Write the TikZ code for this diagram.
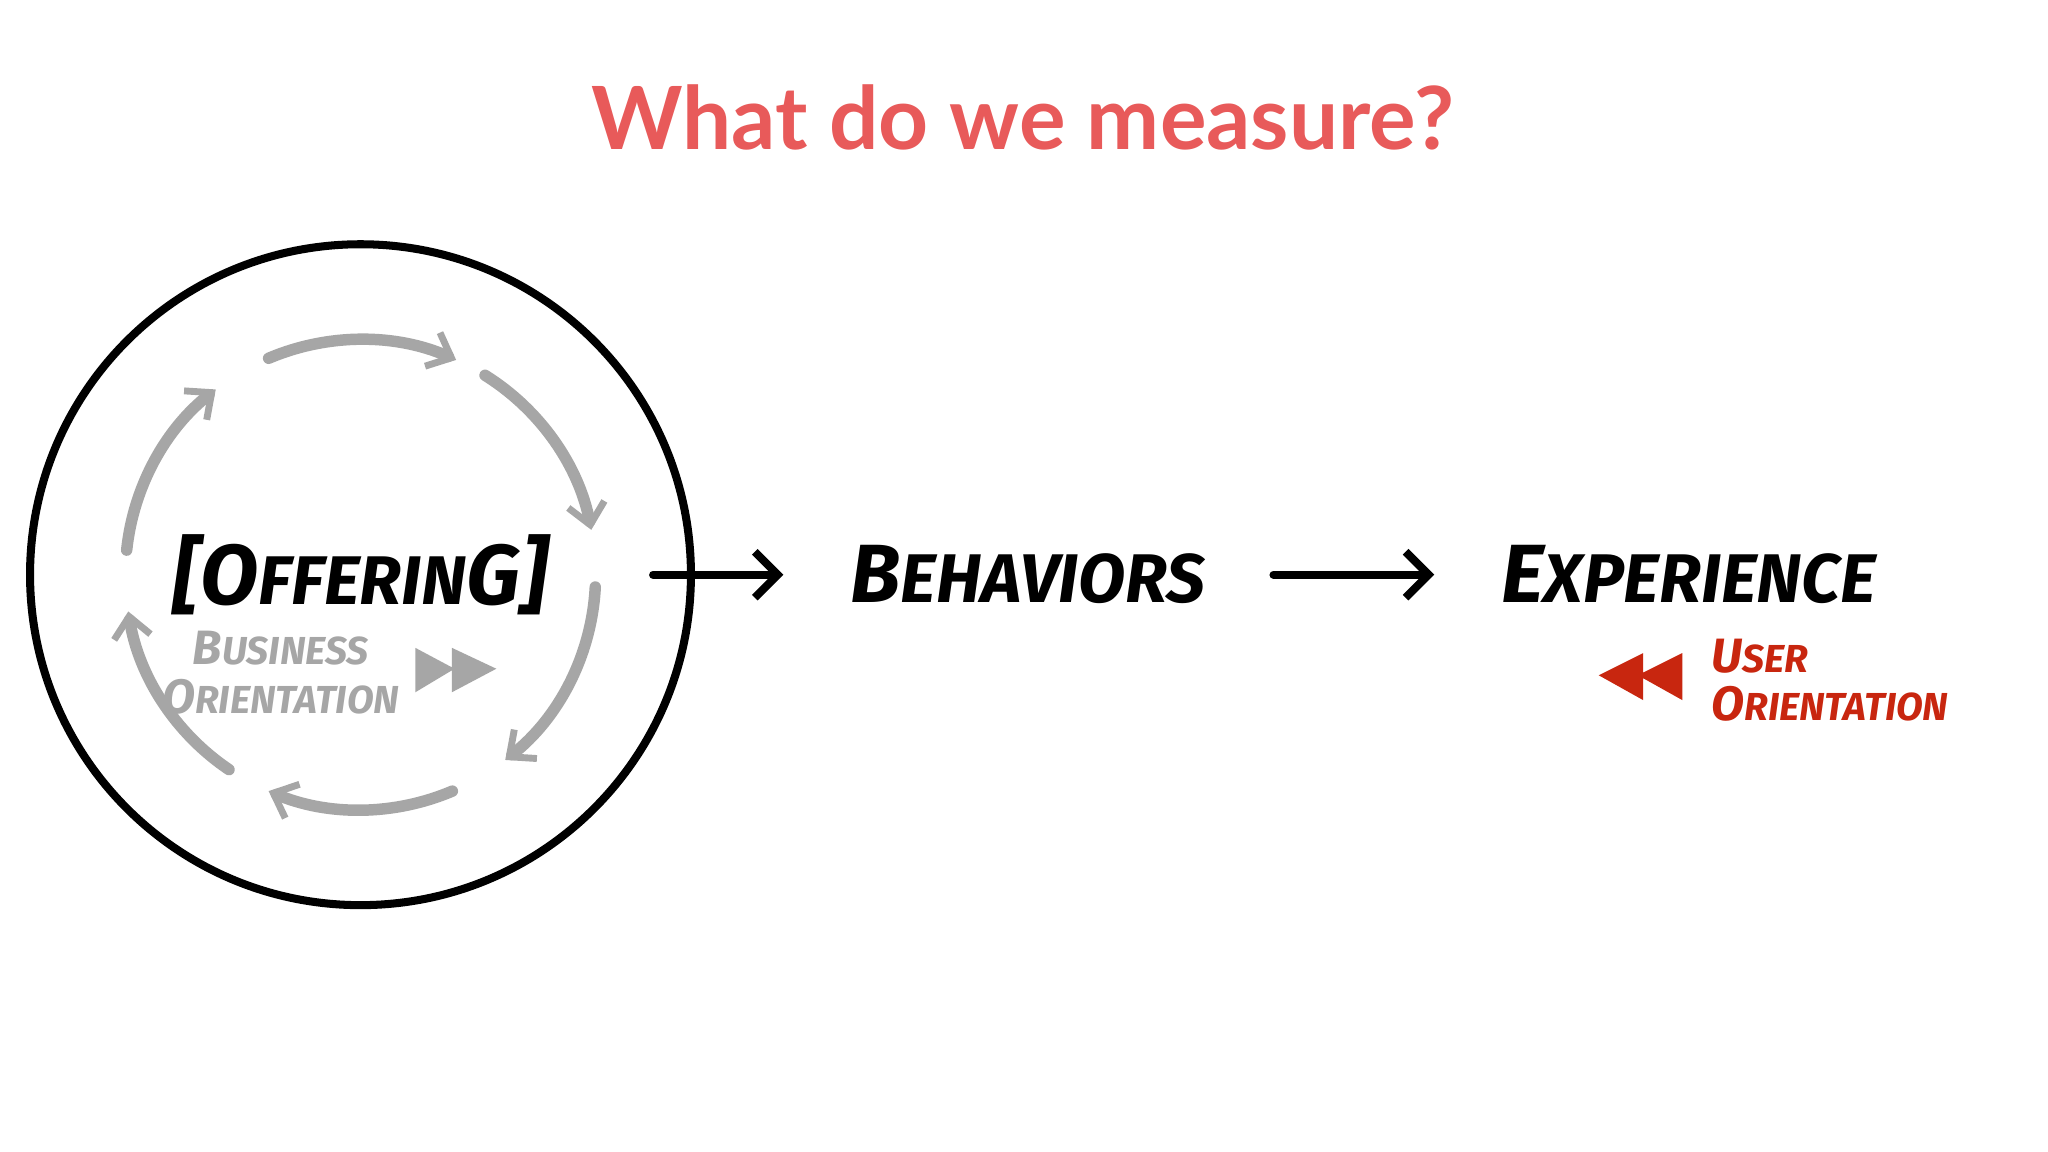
\documentclass[tikz,border=0pt]{standalone}
\usepackage{fontspec}
\setmainfont{Lato}
\newfontfamily\hand{Fira Sans}
\usetikzlibrary{arrows.meta}
\definecolor{titlered}{HTML}{E85A5A}
\definecolor{ugray}{HTML}{A6A6A6}
\definecolor{ured}{HTML}{C8260F}
\tikzset{
  cyc/.style={draw=ugray,line width=5pt,line cap=round,-{Straight Barb[length=9pt,width=16pt,line width=3pt]}},
  flow/.style={draw=black,line width=3.5pt,line cap=round,-{Straight Barb[length=10pt,width=20pt,line width=3.5pt]}},
  hw/.style={font=\hand\bfseries\itshape, inner sep=0pt},
}
\begin{document}
\begin{tikzpicture}[x=0.02cm,y=-0.02cm]
\useasboundingbox (0,0) rectangle (1568,882);
\fill[white] (0,0) rectangle (1568,882);
\node[font=\bfseries\fontsize{38}{42}\selectfont,text=titlered] (title) at (783,90) {What do we measure?};
\coordinate (c) at (276,440);
\draw[line width=3.5pt] (c) circle (253);
% cycle arrows
\draw[cyc] ([shift={(-113:180)}]c) arc[start angle=-113,end angle=-66,radius=180];
\draw[cyc] ([shift={(-58:180)}]c) arc[start angle=-58,end angle=-11,radius=180];
\draw[cyc] ([shift={(3:180)}]c) arc[start angle=3,end angle=52,radius=180];
\draw[cyc] ([shift={(67:180)}]c) arc[start angle=67,end angle=113,radius=180];
\draw[cyc] ([shift={(124:180)}]c) arc[start angle=124,end angle=171,radius=180];
\draw[cyc] ([shift={(186:180)}]c) arc[start angle=186,end angle=232,radius=180];
\node[hw,font=\hand\bfseries\itshape\fontsize{37}{40}\selectfont] (off) at (276,440) {[O{\fontsize{30}{32}\selectfont FFERIN}G]};
\node[hw,text=ugray,font=\hand\bfseries\itshape\fontsize{17}{19}\selectfont,align=center] (bus) at (215,515) {{\fontsize{21}{23}\selectfont B}USINESS\\[2pt]{\fontsize{21}{23}\selectfont O}RIENTATION};
\coordinate (ff) at (350,512);
\fill[ugray] (318,496) -- (348,512) -- (318,530) -- cycle (346,496) -- (380,512) -- (346,530) -- cycle;
\node[hw,font=\hand\bfseries\itshape\fontsize{30}{34}\selectfont] (beh) at (787,440) {{\fontsize{36}{38}\selectfont B}EHAVIORS};
\node[hw,font=\hand\bfseries\itshape\fontsize{30}{34}\selectfont] (exp) at (1293,440) {{\fontsize{36}{38}\selectfont E}XPERIENCE};
\coordinate (s) at (500,440);
\draw[flow,shorten >=29pt] (s) -- (beh.west);
\coordinate (s2) at (975,440);
\draw[flow,shorten >=29pt] (s2) -- (exp.west);
\node[hw,text=ured,font=\hand\bfseries\itshape\fontsize{17}{19}\selectfont,align=left,anchor=west] (user) at (1310,521) {{\fontsize{21}{23}\selectfont U}SER\\[2pt]{\fontsize{21}{23}\selectfont O}RIENTATION};
\fill[ured] (1288,500) -- (1254,517) -- (1288,536) -- cycle (1258,500) -- (1224,517) -- (1258,536) -- cycle;
\end{tikzpicture}
\end{document}
